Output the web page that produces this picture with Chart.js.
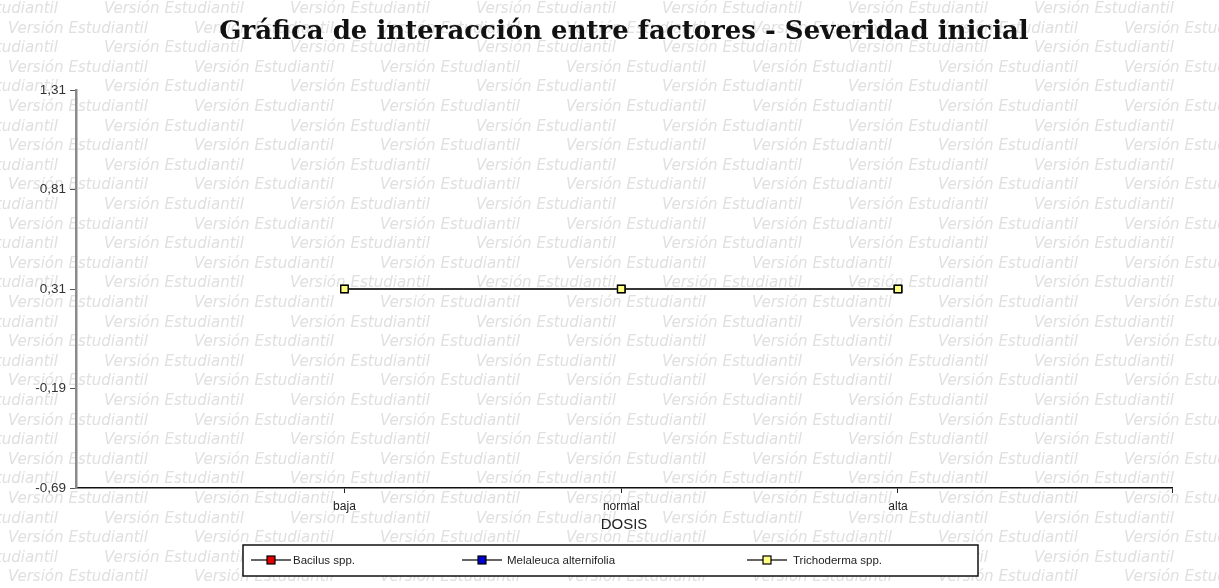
<!DOCTYPE html>
<html><head><meta charset="utf-8">
<script src="https://cdn.jsdelivr.net/npm/chart.js@4.4.0/dist/chart.umd.min.js"></script>
<style>html,body{margin:0;padding:0;background:#fff;overflow:hidden}</style>
</head><body>
<canvas id="c" width="1219" height="588" style="display:block;width:1219px;height:588px"></canvas>
<script>
// ---- data ----
const categories = ['baja', 'normal', 'alta'];
const seriesNames = ['Bacilus spp.', 'Melaleuca alternifolia', 'Trichoderma spp.'];
const bacilus = [0.31, 0.31, 0.31];
const melaleuca = [0.31, 0.31, 0.31];
const trichoderma = [0.31, 0.31, 0.31];
const yTickValues = [-0.69, -0.19, 0.31, 0.81, 1.31];
const markerColors = ['#e00000', '#0000d0', '#ffff80'];
const titleText = 'Gráfica de interacción entre factores - Severidad inicial';
const xTitle = 'DOSIS';
const watermarkText = 'Versión Estudiantil';

const seriesValues = [bacilus, melaleuca, trichoderma];

// legend layout (pixel positions of the boxed legend under the chart)
const legendLayout = {box: {x: 243, y: 545, w: 735, h: 31}, markerX: [271, 482, 767], textX: [293, 507, 793], y: 560};

const bgPlugin = {
  id: 'bg',
  beforeDraw(chart) {
    const ctx = chart.ctx, W = chart.width, H = chart.height;
    ctx.save();
    ctx.fillStyle = '#fff'; ctx.fillRect(0, 0, W, H);
    ctx.font = 'italic 13px "DejaVu Sans"';
    const w13 = ctx.measureText(watermarkText).width;
    const size = 13 * 140 / w13;
    ctx.font = 'italic ' + size.toFixed(2) + 'px "DejaVu Sans"';
    ctx.fillStyle = '#e0e0e0'; ctx.textBaseline = 'middle';
    const period = 186, rowH = 19.6;
    for (let r = 0; r < 32; r++) {
      const y = 9 + r * rowH;
      const off = r % 2 === 0 ? 104 : 8;
      for (let x = off - period; x < W; x += period) ctx.fillText(watermarkText, x, y);
    }
    const b = legendLayout.box;
    ctx.fillStyle = '#fff'; ctx.fillRect(b.x, b.y, b.w, b.h);
    ctx.restore();
  },
  afterDraw(chart) {
    const ctx = chart.ctx, L = legendLayout, b = L.box;
    ctx.save();
    ctx.strokeStyle = '#111'; ctx.lineWidth = 1.5;
    ctx.strokeRect(b.x, b.y, b.w, b.h);
    ctx.font = '11.5px "Liberation Sans"'; ctx.textBaseline = 'middle'; ctx.fillStyle = '#222';
    chart.data.datasets.forEach((ds, i) => {
      const mx = L.markerX[i];
      ctx.strokeStyle = '#333'; ctx.lineWidth = 1.5;
      ctx.beginPath(); ctx.moveTo(mx - 20, L.y); ctx.lineTo(mx + 20, L.y); ctx.stroke();
      ctx.fillStyle = ds.pointBackgroundColor; ctx.fillRect(mx - 4, L.y - 4, 8, 8);
      ctx.strokeStyle = '#000'; ctx.lineWidth = 1.2; ctx.strokeRect(mx - 4, L.y - 4, 8, 8);
      ctx.fillStyle = '#222'; ctx.fillText(ds.label, L.textX[i], L.y + 0.5);
    });
    ctx.restore();
  }
};

new Chart(document.getElementById('c'), {
  type: 'line',
  data: {
    datasets: seriesNames.map((name, i) => ({
      label: name,
      data: seriesValues[i].map((v, j) => ({x: j, y: v})),
      borderColor: '#333',
      borderWidth: 1.5,
      pointStyle: 'rect',
      pointRadius: 5.2,
      pointBorderWidth: 1.3,
      pointBorderColor: '#000',
      pointBackgroundColor: markerColors[i],
      tension: 0,
      order: seriesNames.length - i
    }))
  },
  options: {
    responsive: false,
    animation: false,
    events: [],
    layout: {padding: {left: 0, right: 47, top: 0, bottom: 54}},
    plugins: {
      tooltip: {enabled: false},
      legend: {display: false},
      title: {
        display: true, text: titleText, fullSize: false,
        color: '#111',
        font: {family: 'DejaVu Serif', size: 26, weight: 'bold', lineHeight: 1.2},
        padding: {top: 16.4, bottom: 42.4}
      }
    },
    scales: {
      x: {
        type: 'linear', min: -0.97, max: 2.99,
        afterBuildTicks(s) { s.ticks = categories.map((_, i) => ({value: i})).concat([{value: 2.99}]); },
        afterFit(s) { s.height = 46; },
        ticks: {
          autoSkip: false, maxRotation: 0, padding: 6, color: '#222',
          font: {family: 'Liberation Sans', size: 12},
          callback: (v, i) => (i < categories.length ? categories[i] : '')
        },
        grid: {drawOnChartArea: false, drawTicks: true, tickLength: 5, color: '#222'},
        border: {display: true, color: '#111', width: 1.5},
        title: {display: true, text: xTitle, color: '#222', font: {family: 'Liberation Sans', size: 15}, padding: {top: 0, bottom: 0}}
      },
      y: {
        min: -0.69, max: 1.31,
        afterBuildTicks(s) { s.ticks = yTickValues.map(v => ({value: v})); },
        afterFit(s) { s.width = 76; },
        ticks: {
          padding: 4, color: '#333', font: {family: 'Liberation Sans', size: 13.5},
          callback: v => v.toFixed(2).replace('.', ',')
        },
        grid: {drawOnChartArea: false, drawTicks: true, tickLength: 6, color: '#555'},
        border: {display: true, color: '#8a8a8a', width: 2.5}
      }
    }
  },
  plugins: [bgPlugin]
});
</script>
</body></html>
